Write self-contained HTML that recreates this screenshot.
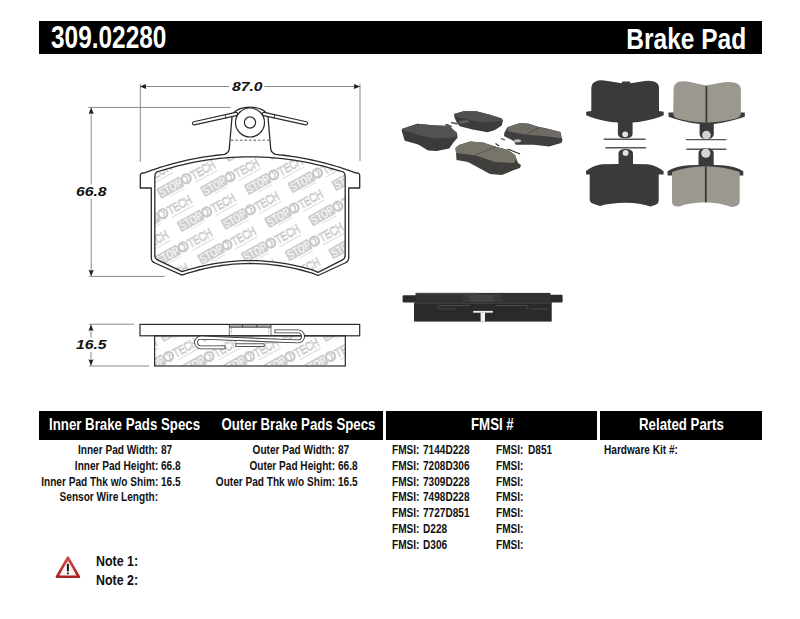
<!DOCTYPE html>
<html><head><meta charset="utf-8"><style>
*{margin:0;padding:0;box-sizing:border-box}
html,body{width:800px;height:619px;background:#fff;overflow:hidden}
body{position:relative;font-family:"Liberation Sans",sans-serif;color:#111}
.a{position:absolute;white-space:nowrap;line-height:normal}
.bar{position:absolute;background:#000}
.c{display:inline-block;transform-origin:0 0;font-weight:bold}
.cr{transform-origin:100% 0}
.r{position:absolute;white-space:nowrap;text-align:right}
.cr{display:inline-block;transform-origin:100% 0}
svg{position:absolute;left:0;top:0}
.hd{color:#fff;font-weight:bold}
.t{font-weight:bold;font-size:11.5px;line-height:14px}
.dim{font-weight:bold;font-style:italic;font-size:13px}
</style></head>
<body>
<svg width="800" height="619" viewBox="0 0 800 619" font-family="Liberation Sans, sans-serif">

<defs><clipPath id="cpi"><path d="M154.8,255 L154.8,177 Q154.8,171.13 159.5,171.13 L165.53,169.29 L171.57,167.57 L177.6,165.97 L183.63,164.51 L189.67,163.17 L195.7,161.96 L201.73,160.88 L207.77,159.92 L213.8,159.09 L219.83,158.39 L225.87,157.82 L231.9,157.37 L237.93,157.05 L243.97,156.86 L250,156.8 L256.03,156.86 L262.07,157.05 L268.1,157.37 L274.13,157.82 L280.17,158.39 L286.2,159.09 L292.23,159.92 L298.27,160.88 L304.3,161.96 L310.33,163.17 L316.37,164.51 L322.4,165.97 L328.43,167.57 L334.47,169.29 L340.5,171.13 Q345.2,171.13 345.2,177 L345.2,255 Q345.2,258.5 342.5,259.8 L318,272.3 L312.33,269.93 L306.67,268.31 L301,266.84 L295.33,265.53 L289.67,264.38 L284,263.37 L278.33,262.53 L272.67,261.83 L267,261.29 L261.33,260.91 L255.67,260.68 L250,260.6 L244.33,260.68 L238.67,260.91 L233,261.29 L227.33,261.83 L221.67,262.53 L216,263.37 L210.33,264.38 L204.67,265.53 L199,266.84 L193.33,268.31 L187.67,269.93 L182,271.7 L157.5,259.8 Q154.8,258.5 154.8,255 Z"/></clipPath>
<clipPath id="cps"><rect x="155" y="336.5" width="190" height="29"/></clipPath>
<marker id="ar" viewBox="0 0 10 8" refX="10" refY="4" markerWidth="6.4" markerHeight="5.4" orient="auto-start-reverse" markerUnits="userSpaceOnUse"><path d="M0,0 L10,4 L0,8 L1.3,4 Z" fill="#1e1e1e"/></marker>
</defs>
<g clip-path="url(#cpi)"><g transform="translate(122.15,147.55) rotate(-29)"><rect x="-31.5" y="-5.6" width="26.5" height="11.2" rx="1.2" fill="#cecece"/><text x="-30.3" y="4.2" font-size="12" font-weight="bold" fill="#fff" stroke="#c4c4c4" stroke-width="0.3" textLength="24.5" lengthAdjust="spacingAndGlyphs">STOP</text><circle cx="0" cy="0" r="4.5" fill="#fff" stroke="#c8c8c8" stroke-width="2.2"/><path d="M-0.6,-3.4 L1.6,-0.6 L-0.4,3.4" stroke="#cacaca" stroke-width="1.5" fill="none"/><text x="5.8" y="4.6" font-size="12.5" fill="#fff" stroke="#c6c6c6" stroke-width="0.75" textLength="26" lengthAdjust="spacingAndGlyphs">TECH</text><rect x="6" y="7" width="25" height="1.2" fill="#e0e0e0"/><rect x="-22" y="7" width="16" height="1.1" fill="#e4e4e4"/></g><g transform="translate(165.9,145.65) rotate(-29)"><rect x="-31.5" y="-5.6" width="26.5" height="11.2" rx="1.2" fill="#cecece"/><text x="-30.3" y="4.2" font-size="12" font-weight="bold" fill="#fff" stroke="#c4c4c4" stroke-width="0.3" textLength="24.5" lengthAdjust="spacingAndGlyphs">STOP</text><circle cx="0" cy="0" r="4.5" fill="#fff" stroke="#c8c8c8" stroke-width="2.2"/><path d="M-0.6,-3.4 L1.6,-0.6 L-0.4,3.4" stroke="#cacaca" stroke-width="1.5" fill="none"/><text x="5.8" y="4.6" font-size="12.5" fill="#fff" stroke="#c6c6c6" stroke-width="0.75" textLength="26" lengthAdjust="spacingAndGlyphs">TECH</text><rect x="6" y="7" width="25" height="1.2" fill="#e0e0e0"/><rect x="-22" y="7" width="16" height="1.1" fill="#e4e4e4"/></g><g transform="translate(209.65,143.75) rotate(-29)"><rect x="-31.5" y="-5.6" width="26.5" height="11.2" rx="1.2" fill="#cecece"/><text x="-30.3" y="4.2" font-size="12" font-weight="bold" fill="#fff" stroke="#c4c4c4" stroke-width="0.3" textLength="24.5" lengthAdjust="spacingAndGlyphs">STOP</text><circle cx="0" cy="0" r="4.5" fill="#fff" stroke="#c8c8c8" stroke-width="2.2"/><path d="M-0.6,-3.4 L1.6,-0.6 L-0.4,3.4" stroke="#cacaca" stroke-width="1.5" fill="none"/><text x="5.8" y="4.6" font-size="12.5" fill="#fff" stroke="#c6c6c6" stroke-width="0.75" textLength="26" lengthAdjust="spacingAndGlyphs">TECH</text><rect x="6" y="7" width="25" height="1.2" fill="#e0e0e0"/><rect x="-22" y="7" width="16" height="1.1" fill="#e4e4e4"/></g><g transform="translate(253.4,141.85) rotate(-29)"><rect x="-31.5" y="-5.6" width="26.5" height="11.2" rx="1.2" fill="#cecece"/><text x="-30.3" y="4.2" font-size="12" font-weight="bold" fill="#fff" stroke="#c4c4c4" stroke-width="0.3" textLength="24.5" lengthAdjust="spacingAndGlyphs">STOP</text><circle cx="0" cy="0" r="4.5" fill="#fff" stroke="#c8c8c8" stroke-width="2.2"/><path d="M-0.6,-3.4 L1.6,-0.6 L-0.4,3.4" stroke="#cacaca" stroke-width="1.5" fill="none"/><text x="5.8" y="4.6" font-size="12.5" fill="#fff" stroke="#c6c6c6" stroke-width="0.75" textLength="26" lengthAdjust="spacingAndGlyphs">TECH</text><rect x="6" y="7" width="25" height="1.2" fill="#e0e0e0"/><rect x="-22" y="7" width="16" height="1.1" fill="#e4e4e4"/></g><g transform="translate(297.15,139.95) rotate(-29)"><rect x="-31.5" y="-5.6" width="26.5" height="11.2" rx="1.2" fill="#cecece"/><text x="-30.3" y="4.2" font-size="12" font-weight="bold" fill="#fff" stroke="#c4c4c4" stroke-width="0.3" textLength="24.5" lengthAdjust="spacingAndGlyphs">STOP</text><circle cx="0" cy="0" r="4.5" fill="#fff" stroke="#c8c8c8" stroke-width="2.2"/><path d="M-0.6,-3.4 L1.6,-0.6 L-0.4,3.4" stroke="#cacaca" stroke-width="1.5" fill="none"/><text x="5.8" y="4.6" font-size="12.5" fill="#fff" stroke="#c6c6c6" stroke-width="0.75" textLength="26" lengthAdjust="spacingAndGlyphs">TECH</text><rect x="6" y="7" width="25" height="1.2" fill="#e0e0e0"/><rect x="-22" y="7" width="16" height="1.1" fill="#e4e4e4"/></g><g transform="translate(340.9,138.05) rotate(-29)"><rect x="-31.5" y="-5.6" width="26.5" height="11.2" rx="1.2" fill="#cecece"/><text x="-30.3" y="4.2" font-size="12" font-weight="bold" fill="#fff" stroke="#c4c4c4" stroke-width="0.3" textLength="24.5" lengthAdjust="spacingAndGlyphs">STOP</text><circle cx="0" cy="0" r="4.5" fill="#fff" stroke="#c8c8c8" stroke-width="2.2"/><path d="M-0.6,-3.4 L1.6,-0.6 L-0.4,3.4" stroke="#cacaca" stroke-width="1.5" fill="none"/><text x="5.8" y="4.6" font-size="12.5" fill="#fff" stroke="#c6c6c6" stroke-width="0.75" textLength="26" lengthAdjust="spacingAndGlyphs">TECH</text><rect x="6" y="7" width="25" height="1.2" fill="#e0e0e0"/><rect x="-22" y="7" width="16" height="1.1" fill="#e4e4e4"/></g><g transform="translate(384.65,136.15) rotate(-29)"><rect x="-31.5" y="-5.6" width="26.5" height="11.2" rx="1.2" fill="#cecece"/><text x="-30.3" y="4.2" font-size="12" font-weight="bold" fill="#fff" stroke="#c4c4c4" stroke-width="0.3" textLength="24.5" lengthAdjust="spacingAndGlyphs">STOP</text><circle cx="0" cy="0" r="4.5" fill="#fff" stroke="#c8c8c8" stroke-width="2.2"/><path d="M-0.6,-3.4 L1.6,-0.6 L-0.4,3.4" stroke="#cacaca" stroke-width="1.5" fill="none"/><text x="5.8" y="4.6" font-size="12.5" fill="#fff" stroke="#c6c6c6" stroke-width="0.75" textLength="26" lengthAdjust="spacingAndGlyphs">TECH</text><rect x="6" y="7" width="25" height="1.2" fill="#e0e0e0"/><rect x="-22" y="7" width="16" height="1.1" fill="#e4e4e4"/></g><g transform="translate(142.5,180.65) rotate(-29)"><rect x="-31.5" y="-5.6" width="26.5" height="11.2" rx="1.2" fill="#cecece"/><text x="-30.3" y="4.2" font-size="12" font-weight="bold" fill="#fff" stroke="#c4c4c4" stroke-width="0.3" textLength="24.5" lengthAdjust="spacingAndGlyphs">STOP</text><circle cx="0" cy="0" r="4.5" fill="#fff" stroke="#c8c8c8" stroke-width="2.2"/><path d="M-0.6,-3.4 L1.6,-0.6 L-0.4,3.4" stroke="#cacaca" stroke-width="1.5" fill="none"/><text x="5.8" y="4.6" font-size="12.5" fill="#fff" stroke="#c6c6c6" stroke-width="0.75" textLength="26" lengthAdjust="spacingAndGlyphs">TECH</text><rect x="6" y="7" width="25" height="1.2" fill="#e0e0e0"/><rect x="-22" y="7" width="16" height="1.1" fill="#e4e4e4"/></g><g transform="translate(186.25,178.75) rotate(-29)"><rect x="-31.5" y="-5.6" width="26.5" height="11.2" rx="1.2" fill="#cecece"/><text x="-30.3" y="4.2" font-size="12" font-weight="bold" fill="#fff" stroke="#c4c4c4" stroke-width="0.3" textLength="24.5" lengthAdjust="spacingAndGlyphs">STOP</text><circle cx="0" cy="0" r="4.5" fill="#fff" stroke="#c8c8c8" stroke-width="2.2"/><path d="M-0.6,-3.4 L1.6,-0.6 L-0.4,3.4" stroke="#cacaca" stroke-width="1.5" fill="none"/><text x="5.8" y="4.6" font-size="12.5" fill="#fff" stroke="#c6c6c6" stroke-width="0.75" textLength="26" lengthAdjust="spacingAndGlyphs">TECH</text><rect x="6" y="7" width="25" height="1.2" fill="#e0e0e0"/><rect x="-22" y="7" width="16" height="1.1" fill="#e4e4e4"/></g><g transform="translate(230,176.85) rotate(-29)"><rect x="-31.5" y="-5.6" width="26.5" height="11.2" rx="1.2" fill="#cecece"/><text x="-30.3" y="4.2" font-size="12" font-weight="bold" fill="#fff" stroke="#c4c4c4" stroke-width="0.3" textLength="24.5" lengthAdjust="spacingAndGlyphs">STOP</text><circle cx="0" cy="0" r="4.5" fill="#fff" stroke="#c8c8c8" stroke-width="2.2"/><path d="M-0.6,-3.4 L1.6,-0.6 L-0.4,3.4" stroke="#cacaca" stroke-width="1.5" fill="none"/><text x="5.8" y="4.6" font-size="12.5" fill="#fff" stroke="#c6c6c6" stroke-width="0.75" textLength="26" lengthAdjust="spacingAndGlyphs">TECH</text><rect x="6" y="7" width="25" height="1.2" fill="#e0e0e0"/><rect x="-22" y="7" width="16" height="1.1" fill="#e4e4e4"/></g><g transform="translate(273.75,174.95) rotate(-29)"><rect x="-31.5" y="-5.6" width="26.5" height="11.2" rx="1.2" fill="#cecece"/><text x="-30.3" y="4.2" font-size="12" font-weight="bold" fill="#fff" stroke="#c4c4c4" stroke-width="0.3" textLength="24.5" lengthAdjust="spacingAndGlyphs">STOP</text><circle cx="0" cy="0" r="4.5" fill="#fff" stroke="#c8c8c8" stroke-width="2.2"/><path d="M-0.6,-3.4 L1.6,-0.6 L-0.4,3.4" stroke="#cacaca" stroke-width="1.5" fill="none"/><text x="5.8" y="4.6" font-size="12.5" fill="#fff" stroke="#c6c6c6" stroke-width="0.75" textLength="26" lengthAdjust="spacingAndGlyphs">TECH</text><rect x="6" y="7" width="25" height="1.2" fill="#e0e0e0"/><rect x="-22" y="7" width="16" height="1.1" fill="#e4e4e4"/></g><g transform="translate(317.5,173.05) rotate(-29)"><rect x="-31.5" y="-5.6" width="26.5" height="11.2" rx="1.2" fill="#cecece"/><text x="-30.3" y="4.2" font-size="12" font-weight="bold" fill="#fff" stroke="#c4c4c4" stroke-width="0.3" textLength="24.5" lengthAdjust="spacingAndGlyphs">STOP</text><circle cx="0" cy="0" r="4.5" fill="#fff" stroke="#c8c8c8" stroke-width="2.2"/><path d="M-0.6,-3.4 L1.6,-0.6 L-0.4,3.4" stroke="#cacaca" stroke-width="1.5" fill="none"/><text x="5.8" y="4.6" font-size="12.5" fill="#fff" stroke="#c6c6c6" stroke-width="0.75" textLength="26" lengthAdjust="spacingAndGlyphs">TECH</text><rect x="6" y="7" width="25" height="1.2" fill="#e0e0e0"/><rect x="-22" y="7" width="16" height="1.1" fill="#e4e4e4"/></g><g transform="translate(361.25,171.15) rotate(-29)"><rect x="-31.5" y="-5.6" width="26.5" height="11.2" rx="1.2" fill="#cecece"/><text x="-30.3" y="4.2" font-size="12" font-weight="bold" fill="#fff" stroke="#c4c4c4" stroke-width="0.3" textLength="24.5" lengthAdjust="spacingAndGlyphs">STOP</text><circle cx="0" cy="0" r="4.5" fill="#fff" stroke="#c8c8c8" stroke-width="2.2"/><path d="M-0.6,-3.4 L1.6,-0.6 L-0.4,3.4" stroke="#cacaca" stroke-width="1.5" fill="none"/><text x="5.8" y="4.6" font-size="12.5" fill="#fff" stroke="#c6c6c6" stroke-width="0.75" textLength="26" lengthAdjust="spacingAndGlyphs">TECH</text><rect x="6" y="7" width="25" height="1.2" fill="#e0e0e0"/><rect x="-22" y="7" width="16" height="1.1" fill="#e4e4e4"/></g><g transform="translate(119.1,215.65) rotate(-29)"><rect x="-31.5" y="-5.6" width="26.5" height="11.2" rx="1.2" fill="#cecece"/><text x="-30.3" y="4.2" font-size="12" font-weight="bold" fill="#fff" stroke="#c4c4c4" stroke-width="0.3" textLength="24.5" lengthAdjust="spacingAndGlyphs">STOP</text><circle cx="0" cy="0" r="4.5" fill="#fff" stroke="#c8c8c8" stroke-width="2.2"/><path d="M-0.6,-3.4 L1.6,-0.6 L-0.4,3.4" stroke="#cacaca" stroke-width="1.5" fill="none"/><text x="5.8" y="4.6" font-size="12.5" fill="#fff" stroke="#c6c6c6" stroke-width="0.75" textLength="26" lengthAdjust="spacingAndGlyphs">TECH</text><rect x="6" y="7" width="25" height="1.2" fill="#e0e0e0"/><rect x="-22" y="7" width="16" height="1.1" fill="#e4e4e4"/></g><g transform="translate(162.85,213.75) rotate(-29)"><rect x="-31.5" y="-5.6" width="26.5" height="11.2" rx="1.2" fill="#cecece"/><text x="-30.3" y="4.2" font-size="12" font-weight="bold" fill="#fff" stroke="#c4c4c4" stroke-width="0.3" textLength="24.5" lengthAdjust="spacingAndGlyphs">STOP</text><circle cx="0" cy="0" r="4.5" fill="#fff" stroke="#c8c8c8" stroke-width="2.2"/><path d="M-0.6,-3.4 L1.6,-0.6 L-0.4,3.4" stroke="#cacaca" stroke-width="1.5" fill="none"/><text x="5.8" y="4.6" font-size="12.5" fill="#fff" stroke="#c6c6c6" stroke-width="0.75" textLength="26" lengthAdjust="spacingAndGlyphs">TECH</text><rect x="6" y="7" width="25" height="1.2" fill="#e0e0e0"/><rect x="-22" y="7" width="16" height="1.1" fill="#e4e4e4"/></g><g transform="translate(206.6,211.85) rotate(-29)"><rect x="-31.5" y="-5.6" width="26.5" height="11.2" rx="1.2" fill="#cecece"/><text x="-30.3" y="4.2" font-size="12" font-weight="bold" fill="#fff" stroke="#c4c4c4" stroke-width="0.3" textLength="24.5" lengthAdjust="spacingAndGlyphs">STOP</text><circle cx="0" cy="0" r="4.5" fill="#fff" stroke="#c8c8c8" stroke-width="2.2"/><path d="M-0.6,-3.4 L1.6,-0.6 L-0.4,3.4" stroke="#cacaca" stroke-width="1.5" fill="none"/><text x="5.8" y="4.6" font-size="12.5" fill="#fff" stroke="#c6c6c6" stroke-width="0.75" textLength="26" lengthAdjust="spacingAndGlyphs">TECH</text><rect x="6" y="7" width="25" height="1.2" fill="#e0e0e0"/><rect x="-22" y="7" width="16" height="1.1" fill="#e4e4e4"/></g><g transform="translate(250.35,209.95) rotate(-29)"><rect x="-31.5" y="-5.6" width="26.5" height="11.2" rx="1.2" fill="#cecece"/><text x="-30.3" y="4.2" font-size="12" font-weight="bold" fill="#fff" stroke="#c4c4c4" stroke-width="0.3" textLength="24.5" lengthAdjust="spacingAndGlyphs">STOP</text><circle cx="0" cy="0" r="4.5" fill="#fff" stroke="#c8c8c8" stroke-width="2.2"/><path d="M-0.6,-3.4 L1.6,-0.6 L-0.4,3.4" stroke="#cacaca" stroke-width="1.5" fill="none"/><text x="5.8" y="4.6" font-size="12.5" fill="#fff" stroke="#c6c6c6" stroke-width="0.75" textLength="26" lengthAdjust="spacingAndGlyphs">TECH</text><rect x="6" y="7" width="25" height="1.2" fill="#e0e0e0"/><rect x="-22" y="7" width="16" height="1.1" fill="#e4e4e4"/></g><g transform="translate(294.1,208.05) rotate(-29)"><rect x="-31.5" y="-5.6" width="26.5" height="11.2" rx="1.2" fill="#cecece"/><text x="-30.3" y="4.2" font-size="12" font-weight="bold" fill="#fff" stroke="#c4c4c4" stroke-width="0.3" textLength="24.5" lengthAdjust="spacingAndGlyphs">STOP</text><circle cx="0" cy="0" r="4.5" fill="#fff" stroke="#c8c8c8" stroke-width="2.2"/><path d="M-0.6,-3.4 L1.6,-0.6 L-0.4,3.4" stroke="#cacaca" stroke-width="1.5" fill="none"/><text x="5.8" y="4.6" font-size="12.5" fill="#fff" stroke="#c6c6c6" stroke-width="0.75" textLength="26" lengthAdjust="spacingAndGlyphs">TECH</text><rect x="6" y="7" width="25" height="1.2" fill="#e0e0e0"/><rect x="-22" y="7" width="16" height="1.1" fill="#e4e4e4"/></g><g transform="translate(337.85,206.15) rotate(-29)"><rect x="-31.5" y="-5.6" width="26.5" height="11.2" rx="1.2" fill="#cecece"/><text x="-30.3" y="4.2" font-size="12" font-weight="bold" fill="#fff" stroke="#c4c4c4" stroke-width="0.3" textLength="24.5" lengthAdjust="spacingAndGlyphs">STOP</text><circle cx="0" cy="0" r="4.5" fill="#fff" stroke="#c8c8c8" stroke-width="2.2"/><path d="M-0.6,-3.4 L1.6,-0.6 L-0.4,3.4" stroke="#cacaca" stroke-width="1.5" fill="none"/><text x="5.8" y="4.6" font-size="12.5" fill="#fff" stroke="#c6c6c6" stroke-width="0.75" textLength="26" lengthAdjust="spacingAndGlyphs">TECH</text><rect x="6" y="7" width="25" height="1.2" fill="#e0e0e0"/><rect x="-22" y="7" width="16" height="1.1" fill="#e4e4e4"/></g><g transform="translate(381.6,204.25) rotate(-29)"><rect x="-31.5" y="-5.6" width="26.5" height="11.2" rx="1.2" fill="#cecece"/><text x="-30.3" y="4.2" font-size="12" font-weight="bold" fill="#fff" stroke="#c4c4c4" stroke-width="0.3" textLength="24.5" lengthAdjust="spacingAndGlyphs">STOP</text><circle cx="0" cy="0" r="4.5" fill="#fff" stroke="#c8c8c8" stroke-width="2.2"/><path d="M-0.6,-3.4 L1.6,-0.6 L-0.4,3.4" stroke="#cacaca" stroke-width="1.5" fill="none"/><text x="5.8" y="4.6" font-size="12.5" fill="#fff" stroke="#c6c6c6" stroke-width="0.75" textLength="26" lengthAdjust="spacingAndGlyphs">TECH</text><rect x="6" y="7" width="25" height="1.2" fill="#e0e0e0"/><rect x="-22" y="7" width="16" height="1.1" fill="#e4e4e4"/></g><g transform="translate(139.45,248.75) rotate(-29)"><rect x="-31.5" y="-5.6" width="26.5" height="11.2" rx="1.2" fill="#cecece"/><text x="-30.3" y="4.2" font-size="12" font-weight="bold" fill="#fff" stroke="#c4c4c4" stroke-width="0.3" textLength="24.5" lengthAdjust="spacingAndGlyphs">STOP</text><circle cx="0" cy="0" r="4.5" fill="#fff" stroke="#c8c8c8" stroke-width="2.2"/><path d="M-0.6,-3.4 L1.6,-0.6 L-0.4,3.4" stroke="#cacaca" stroke-width="1.5" fill="none"/><text x="5.8" y="4.6" font-size="12.5" fill="#fff" stroke="#c6c6c6" stroke-width="0.75" textLength="26" lengthAdjust="spacingAndGlyphs">TECH</text><rect x="6" y="7" width="25" height="1.2" fill="#e0e0e0"/><rect x="-22" y="7" width="16" height="1.1" fill="#e4e4e4"/></g><g transform="translate(183.2,246.85) rotate(-29)"><rect x="-31.5" y="-5.6" width="26.5" height="11.2" rx="1.2" fill="#cecece"/><text x="-30.3" y="4.2" font-size="12" font-weight="bold" fill="#fff" stroke="#c4c4c4" stroke-width="0.3" textLength="24.5" lengthAdjust="spacingAndGlyphs">STOP</text><circle cx="0" cy="0" r="4.5" fill="#fff" stroke="#c8c8c8" stroke-width="2.2"/><path d="M-0.6,-3.4 L1.6,-0.6 L-0.4,3.4" stroke="#cacaca" stroke-width="1.5" fill="none"/><text x="5.8" y="4.6" font-size="12.5" fill="#fff" stroke="#c6c6c6" stroke-width="0.75" textLength="26" lengthAdjust="spacingAndGlyphs">TECH</text><rect x="6" y="7" width="25" height="1.2" fill="#e0e0e0"/><rect x="-22" y="7" width="16" height="1.1" fill="#e4e4e4"/></g><g transform="translate(226.95,244.95) rotate(-29)"><rect x="-31.5" y="-5.6" width="26.5" height="11.2" rx="1.2" fill="#cecece"/><text x="-30.3" y="4.2" font-size="12" font-weight="bold" fill="#fff" stroke="#c4c4c4" stroke-width="0.3" textLength="24.5" lengthAdjust="spacingAndGlyphs">STOP</text><circle cx="0" cy="0" r="4.5" fill="#fff" stroke="#c8c8c8" stroke-width="2.2"/><path d="M-0.6,-3.4 L1.6,-0.6 L-0.4,3.4" stroke="#cacaca" stroke-width="1.5" fill="none"/><text x="5.8" y="4.6" font-size="12.5" fill="#fff" stroke="#c6c6c6" stroke-width="0.75" textLength="26" lengthAdjust="spacingAndGlyphs">TECH</text><rect x="6" y="7" width="25" height="1.2" fill="#e0e0e0"/><rect x="-22" y="7" width="16" height="1.1" fill="#e4e4e4"/></g><g transform="translate(270.7,243.05) rotate(-29)"><rect x="-31.5" y="-5.6" width="26.5" height="11.2" rx="1.2" fill="#cecece"/><text x="-30.3" y="4.2" font-size="12" font-weight="bold" fill="#fff" stroke="#c4c4c4" stroke-width="0.3" textLength="24.5" lengthAdjust="spacingAndGlyphs">STOP</text><circle cx="0" cy="0" r="4.5" fill="#fff" stroke="#c8c8c8" stroke-width="2.2"/><path d="M-0.6,-3.4 L1.6,-0.6 L-0.4,3.4" stroke="#cacaca" stroke-width="1.5" fill="none"/><text x="5.8" y="4.6" font-size="12.5" fill="#fff" stroke="#c6c6c6" stroke-width="0.75" textLength="26" lengthAdjust="spacingAndGlyphs">TECH</text><rect x="6" y="7" width="25" height="1.2" fill="#e0e0e0"/><rect x="-22" y="7" width="16" height="1.1" fill="#e4e4e4"/></g><g transform="translate(314.45,241.15) rotate(-29)"><rect x="-31.5" y="-5.6" width="26.5" height="11.2" rx="1.2" fill="#cecece"/><text x="-30.3" y="4.2" font-size="12" font-weight="bold" fill="#fff" stroke="#c4c4c4" stroke-width="0.3" textLength="24.5" lengthAdjust="spacingAndGlyphs">STOP</text><circle cx="0" cy="0" r="4.5" fill="#fff" stroke="#c8c8c8" stroke-width="2.2"/><path d="M-0.6,-3.4 L1.6,-0.6 L-0.4,3.4" stroke="#cacaca" stroke-width="1.5" fill="none"/><text x="5.8" y="4.6" font-size="12.5" fill="#fff" stroke="#c6c6c6" stroke-width="0.75" textLength="26" lengthAdjust="spacingAndGlyphs">TECH</text><rect x="6" y="7" width="25" height="1.2" fill="#e0e0e0"/><rect x="-22" y="7" width="16" height="1.1" fill="#e4e4e4"/></g><g transform="translate(358.2,239.25) rotate(-29)"><rect x="-31.5" y="-5.6" width="26.5" height="11.2" rx="1.2" fill="#cecece"/><text x="-30.3" y="4.2" font-size="12" font-weight="bold" fill="#fff" stroke="#c4c4c4" stroke-width="0.3" textLength="24.5" lengthAdjust="spacingAndGlyphs">STOP</text><circle cx="0" cy="0" r="4.5" fill="#fff" stroke="#c8c8c8" stroke-width="2.2"/><path d="M-0.6,-3.4 L1.6,-0.6 L-0.4,3.4" stroke="#cacaca" stroke-width="1.5" fill="none"/><text x="5.8" y="4.6" font-size="12.5" fill="#fff" stroke="#c6c6c6" stroke-width="0.75" textLength="26" lengthAdjust="spacingAndGlyphs">TECH</text><rect x="6" y="7" width="25" height="1.2" fill="#e0e0e0"/><rect x="-22" y="7" width="16" height="1.1" fill="#e4e4e4"/></g><g transform="translate(116.05,283.75) rotate(-29)"><rect x="-31.5" y="-5.6" width="26.5" height="11.2" rx="1.2" fill="#cecece"/><text x="-30.3" y="4.2" font-size="12" font-weight="bold" fill="#fff" stroke="#c4c4c4" stroke-width="0.3" textLength="24.5" lengthAdjust="spacingAndGlyphs">STOP</text><circle cx="0" cy="0" r="4.5" fill="#fff" stroke="#c8c8c8" stroke-width="2.2"/><path d="M-0.6,-3.4 L1.6,-0.6 L-0.4,3.4" stroke="#cacaca" stroke-width="1.5" fill="none"/><text x="5.8" y="4.6" font-size="12.5" fill="#fff" stroke="#c6c6c6" stroke-width="0.75" textLength="26" lengthAdjust="spacingAndGlyphs">TECH</text><rect x="6" y="7" width="25" height="1.2" fill="#e0e0e0"/><rect x="-22" y="7" width="16" height="1.1" fill="#e4e4e4"/></g><g transform="translate(159.8,281.85) rotate(-29)"><rect x="-31.5" y="-5.6" width="26.5" height="11.2" rx="1.2" fill="#cecece"/><text x="-30.3" y="4.2" font-size="12" font-weight="bold" fill="#fff" stroke="#c4c4c4" stroke-width="0.3" textLength="24.5" lengthAdjust="spacingAndGlyphs">STOP</text><circle cx="0" cy="0" r="4.5" fill="#fff" stroke="#c8c8c8" stroke-width="2.2"/><path d="M-0.6,-3.4 L1.6,-0.6 L-0.4,3.4" stroke="#cacaca" stroke-width="1.5" fill="none"/><text x="5.8" y="4.6" font-size="12.5" fill="#fff" stroke="#c6c6c6" stroke-width="0.75" textLength="26" lengthAdjust="spacingAndGlyphs">TECH</text><rect x="6" y="7" width="25" height="1.2" fill="#e0e0e0"/><rect x="-22" y="7" width="16" height="1.1" fill="#e4e4e4"/></g><g transform="translate(203.55,279.95) rotate(-29)"><rect x="-31.5" y="-5.6" width="26.5" height="11.2" rx="1.2" fill="#cecece"/><text x="-30.3" y="4.2" font-size="12" font-weight="bold" fill="#fff" stroke="#c4c4c4" stroke-width="0.3" textLength="24.5" lengthAdjust="spacingAndGlyphs">STOP</text><circle cx="0" cy="0" r="4.5" fill="#fff" stroke="#c8c8c8" stroke-width="2.2"/><path d="M-0.6,-3.4 L1.6,-0.6 L-0.4,3.4" stroke="#cacaca" stroke-width="1.5" fill="none"/><text x="5.8" y="4.6" font-size="12.5" fill="#fff" stroke="#c6c6c6" stroke-width="0.75" textLength="26" lengthAdjust="spacingAndGlyphs">TECH</text><rect x="6" y="7" width="25" height="1.2" fill="#e0e0e0"/><rect x="-22" y="7" width="16" height="1.1" fill="#e4e4e4"/></g><g transform="translate(247.3,278.05) rotate(-29)"><rect x="-31.5" y="-5.6" width="26.5" height="11.2" rx="1.2" fill="#cecece"/><text x="-30.3" y="4.2" font-size="12" font-weight="bold" fill="#fff" stroke="#c4c4c4" stroke-width="0.3" textLength="24.5" lengthAdjust="spacingAndGlyphs">STOP</text><circle cx="0" cy="0" r="4.5" fill="#fff" stroke="#c8c8c8" stroke-width="2.2"/><path d="M-0.6,-3.4 L1.6,-0.6 L-0.4,3.4" stroke="#cacaca" stroke-width="1.5" fill="none"/><text x="5.8" y="4.6" font-size="12.5" fill="#fff" stroke="#c6c6c6" stroke-width="0.75" textLength="26" lengthAdjust="spacingAndGlyphs">TECH</text><rect x="6" y="7" width="25" height="1.2" fill="#e0e0e0"/><rect x="-22" y="7" width="16" height="1.1" fill="#e4e4e4"/></g><g transform="translate(291.05,276.15) rotate(-29)"><rect x="-31.5" y="-5.6" width="26.5" height="11.2" rx="1.2" fill="#cecece"/><text x="-30.3" y="4.2" font-size="12" font-weight="bold" fill="#fff" stroke="#c4c4c4" stroke-width="0.3" textLength="24.5" lengthAdjust="spacingAndGlyphs">STOP</text><circle cx="0" cy="0" r="4.5" fill="#fff" stroke="#c8c8c8" stroke-width="2.2"/><path d="M-0.6,-3.4 L1.6,-0.6 L-0.4,3.4" stroke="#cacaca" stroke-width="1.5" fill="none"/><text x="5.8" y="4.6" font-size="12.5" fill="#fff" stroke="#c6c6c6" stroke-width="0.75" textLength="26" lengthAdjust="spacingAndGlyphs">TECH</text><rect x="6" y="7" width="25" height="1.2" fill="#e0e0e0"/><rect x="-22" y="7" width="16" height="1.1" fill="#e4e4e4"/></g><g transform="translate(334.8,274.25) rotate(-29)"><rect x="-31.5" y="-5.6" width="26.5" height="11.2" rx="1.2" fill="#cecece"/><text x="-30.3" y="4.2" font-size="12" font-weight="bold" fill="#fff" stroke="#c4c4c4" stroke-width="0.3" textLength="24.5" lengthAdjust="spacingAndGlyphs">STOP</text><circle cx="0" cy="0" r="4.5" fill="#fff" stroke="#c8c8c8" stroke-width="2.2"/><path d="M-0.6,-3.4 L1.6,-0.6 L-0.4,3.4" stroke="#cacaca" stroke-width="1.5" fill="none"/><text x="5.8" y="4.6" font-size="12.5" fill="#fff" stroke="#c6c6c6" stroke-width="0.75" textLength="26" lengthAdjust="spacingAndGlyphs">TECH</text><rect x="6" y="7" width="25" height="1.2" fill="#e0e0e0"/><rect x="-22" y="7" width="16" height="1.1" fill="#e4e4e4"/></g><g transform="translate(378.55,272.35) rotate(-29)"><rect x="-31.5" y="-5.6" width="26.5" height="11.2" rx="1.2" fill="#cecece"/><text x="-30.3" y="4.2" font-size="12" font-weight="bold" fill="#fff" stroke="#c4c4c4" stroke-width="0.3" textLength="24.5" lengthAdjust="spacingAndGlyphs">STOP</text><circle cx="0" cy="0" r="4.5" fill="#fff" stroke="#c8c8c8" stroke-width="2.2"/><path d="M-0.6,-3.4 L1.6,-0.6 L-0.4,3.4" stroke="#cacaca" stroke-width="1.5" fill="none"/><text x="5.8" y="4.6" font-size="12.5" fill="#fff" stroke="#c6c6c6" stroke-width="0.75" textLength="26" lengthAdjust="spacingAndGlyphs">TECH</text><rect x="6" y="7" width="25" height="1.2" fill="#e0e0e0"/><rect x="-22" y="7" width="16" height="1.1" fill="#e4e4e4"/></g></g>
<path d="M140.3,188 L140.3,175.5 Q140.3,172.6 143.8,173.04 L147.84,171.57 L151.87,170.15 L155.91,168.79 L159.94,167.49 L163.98,166.25 L168.01,165.06 L172.05,163.93 L176.08,162.86 L180.12,161.85 L184.15,160.89 L188.19,159.99 L192.22,159.14 L196.25,158.35 L200.29,157.62 L204.32,156.95 L208.36,156.33 L212.4,155.77 L216.43,155.27 L220.47,154.83 L224.5,154.44 C227.5,153 229.3,151.5 229.3,148.5 L232,117 C233,111 240,107.2 250,107.2 C260,107.2 267,111 268,117 L270.7,148.5 C270.7,151.5 272.5,153 275.5,154.44 L279.54,154.83 L283.57,155.27 L287.61,155.77 L291.64,156.33 L295.68,156.95 L299.71,157.62 L303.75,158.35 L307.78,159.14 L311.81,159.99 L315.85,160.89 L319.88,161.85 L323.92,162.86 L327.95,163.93 L331.99,165.06 L336.02,166.25 L340.06,167.49 L344.1,168.79 L348.13,170.15 L352.16,171.57 L356.2,173.04 Q359.7,172.6 359.7,175.5 L359.7,188 L348.7,188 L348.7,258 Q348.7,261.5 345,263 L318,275.5 L312.33,273.21 L306.67,271.53 L301,270 L295.33,268.64 L289.67,267.43 L284,266.39 L278.33,265.51 L272.67,264.78 L267,264.22 L261.33,263.82 L255.67,263.58 L250,263.5 L244.33,263.58 L238.67,263.82 L233,264.22 L227.33,264.78 L221.67,265.51 L216,266.39 L210.33,267.43 L204.67,268.64 L199,270 L193.33,271.53 L187.67,273.21 L182,275.06 L155,263 Q151.3,261.5 151.3,258 L151.3,188 Z" fill="none" stroke="#2a2a2a" stroke-width="1.3" stroke-linejoin="round"/>
<path d="M154.8,255 L154.8,177 Q154.8,171.13 159.5,171.13 L165.53,169.29 L171.57,167.57 L177.6,165.97 L183.63,164.51 L189.67,163.17 L195.7,161.96 L201.73,160.88 L207.77,159.92 L213.8,159.09 L219.83,158.39 L225.87,157.82 L231.9,157.37 L237.93,157.05 L243.97,156.86 L250,156.8 L256.03,156.86 L262.07,157.05 L268.1,157.37 L274.13,157.82 L280.17,158.39 L286.2,159.09 L292.23,159.92 L298.27,160.88 L304.3,161.96 L310.33,163.17 L316.37,164.51 L322.4,165.97 L328.43,167.57 L334.47,169.29 L340.5,171.13 Q345.2,171.13 345.2,177 L345.2,255 Q345.2,258.5 342.5,259.8 L318,272.3 L312.33,269.93 L306.67,268.31 L301,266.84 L295.33,265.53 L289.67,264.38 L284,263.37 L278.33,262.53 L272.67,261.83 L267,261.29 L261.33,260.91 L255.67,260.68 L250,260.6 L244.33,260.68 L238.67,260.91 L233,261.29 L227.33,261.83 L221.67,262.53 L216,263.37 L210.33,264.38 L204.67,265.53 L199,266.84 L193.33,268.31 L187.67,269.93 L182,271.7 L157.5,259.8 Q154.8,258.5 154.8,255 Z" fill="none" stroke="#2a2a2a" stroke-width="1.3" stroke-linejoin="round"/>

<circle cx="250" cy="122.5" r="14.5" fill="#fff" stroke="#2a2a2a" stroke-width="1.2"/>
<circle cx="250" cy="122.5" r="5.6" fill="#fff" stroke="#2a2a2a" stroke-width="1.2"/>
<line x1="231" y1="140.2" x2="270" y2="140.2" stroke="#444" stroke-width="0.9" stroke-dasharray="2.5,2"/>
<path d="M194,123.3 L236,114" stroke="#2a2a2a" stroke-width="4.4" stroke-linecap="round"/>
<path d="M194,123.3 L236,114" stroke="#fff" stroke-width="2.2" stroke-linecap="round"/>
<path d="M306,123.3 L264,114" stroke="#2a2a2a" stroke-width="4.4" stroke-linecap="round"/>
<path d="M306,123.3 L264,114" stroke="#fff" stroke-width="2.2" stroke-linecap="round"/>
<line x1="225.2" y1="114.5" x2="226" y2="118.5" stroke="#2a2a2a" stroke-width="0.9"/>
<line x1="274.8" y1="114.5" x2="274" y2="118.5" stroke="#2a2a2a" stroke-width="0.9"/>


<g stroke="#8a8a8a" stroke-width="1" fill="none">
<line x1="140.3" y1="84" x2="140.3" y2="162"/>
<line x1="360" y1="83.5" x2="360" y2="161"/>
<line x1="140" y1="86.5" x2="229" y2="86.5" marker-start="url(#ar)"/>
<line x1="264.5" y1="86.5" x2="360" y2="86.5" marker-end="url(#ar)"/>
<line x1="88.2" y1="107.4" x2="230.5" y2="107.4"/>
<line x1="89" y1="276.4" x2="164.8" y2="276.4"/>
<line x1="91.2" y1="107.6" x2="91.2" y2="184.5" marker-start="url(#ar)"/>
<line x1="91.2" y1="199" x2="91.2" y2="276.2" marker-end="url(#ar)"/>
<line x1="89" y1="324.2" x2="134" y2="324.2"/>
<line x1="89" y1="366" x2="149" y2="366"/>
<line x1="91" y1="324.5" x2="91" y2="338" marker-start="url(#ar)"/>
<line x1="91" y1="352" x2="91" y2="365.7" marker-end="url(#ar)"/>
</g>


<g clip-path="url(#cps)"><g transform="translate(87.5,356.5) rotate(-29)"><rect x="-31.5" y="-5.6" width="26.5" height="11.2" rx="1.2" fill="#cecece"/><text x="-30.3" y="4.2" font-size="12" font-weight="bold" fill="#fff" stroke="#c4c4c4" stroke-width="0.3" textLength="24.5" lengthAdjust="spacingAndGlyphs">STOP</text><circle cx="0" cy="0" r="4.5" fill="#fff" stroke="#c8c8c8" stroke-width="2.2"/><path d="M-0.6,-3.4 L1.6,-0.6 L-0.4,3.4" stroke="#cacaca" stroke-width="1.5" fill="none"/><text x="5.8" y="4.6" font-size="12.5" fill="#fff" stroke="#c6c6c6" stroke-width="0.75" textLength="26" lengthAdjust="spacingAndGlyphs">TECH</text><rect x="6" y="7" width="25" height="1.2" fill="#e0e0e0"/><rect x="-22" y="7" width="16" height="1.1" fill="#e4e4e4"/></g><g transform="translate(107.5,322) rotate(-29)"><rect x="-31.5" y="-5.6" width="26.5" height="11.2" rx="1.2" fill="#cecece"/><text x="-30.3" y="4.2" font-size="12" font-weight="bold" fill="#fff" stroke="#c4c4c4" stroke-width="0.3" textLength="24.5" lengthAdjust="spacingAndGlyphs">STOP</text><circle cx="0" cy="0" r="4.5" fill="#fff" stroke="#c8c8c8" stroke-width="2.2"/><path d="M-0.6,-3.4 L1.6,-0.6 L-0.4,3.4" stroke="#cacaca" stroke-width="1.5" fill="none"/><text x="5.8" y="4.6" font-size="12.5" fill="#fff" stroke="#c6c6c6" stroke-width="0.75" textLength="26" lengthAdjust="spacingAndGlyphs">TECH</text><rect x="6" y="7" width="25" height="1.2" fill="#e0e0e0"/><rect x="-22" y="7" width="16" height="1.1" fill="#e4e4e4"/></g><g transform="translate(128,356.5) rotate(-29)"><rect x="-31.5" y="-5.6" width="26.5" height="11.2" rx="1.2" fill="#cecece"/><text x="-30.3" y="4.2" font-size="12" font-weight="bold" fill="#fff" stroke="#c4c4c4" stroke-width="0.3" textLength="24.5" lengthAdjust="spacingAndGlyphs">STOP</text><circle cx="0" cy="0" r="4.5" fill="#fff" stroke="#c8c8c8" stroke-width="2.2"/><path d="M-0.6,-3.4 L1.6,-0.6 L-0.4,3.4" stroke="#cacaca" stroke-width="1.5" fill="none"/><text x="5.8" y="4.6" font-size="12.5" fill="#fff" stroke="#c6c6c6" stroke-width="0.75" textLength="26" lengthAdjust="spacingAndGlyphs">TECH</text><rect x="6" y="7" width="25" height="1.2" fill="#e0e0e0"/><rect x="-22" y="7" width="16" height="1.1" fill="#e4e4e4"/></g><g transform="translate(148,322) rotate(-29)"><rect x="-31.5" y="-5.6" width="26.5" height="11.2" rx="1.2" fill="#cecece"/><text x="-30.3" y="4.2" font-size="12" font-weight="bold" fill="#fff" stroke="#c4c4c4" stroke-width="0.3" textLength="24.5" lengthAdjust="spacingAndGlyphs">STOP</text><circle cx="0" cy="0" r="4.5" fill="#fff" stroke="#c8c8c8" stroke-width="2.2"/><path d="M-0.6,-3.4 L1.6,-0.6 L-0.4,3.4" stroke="#cacaca" stroke-width="1.5" fill="none"/><text x="5.8" y="4.6" font-size="12.5" fill="#fff" stroke="#c6c6c6" stroke-width="0.75" textLength="26" lengthAdjust="spacingAndGlyphs">TECH</text><rect x="6" y="7" width="25" height="1.2" fill="#e0e0e0"/><rect x="-22" y="7" width="16" height="1.1" fill="#e4e4e4"/></g><g transform="translate(168.5,356.5) rotate(-29)"><rect x="-31.5" y="-5.6" width="26.5" height="11.2" rx="1.2" fill="#cecece"/><text x="-30.3" y="4.2" font-size="12" font-weight="bold" fill="#fff" stroke="#c4c4c4" stroke-width="0.3" textLength="24.5" lengthAdjust="spacingAndGlyphs">STOP</text><circle cx="0" cy="0" r="4.5" fill="#fff" stroke="#c8c8c8" stroke-width="2.2"/><path d="M-0.6,-3.4 L1.6,-0.6 L-0.4,3.4" stroke="#cacaca" stroke-width="1.5" fill="none"/><text x="5.8" y="4.6" font-size="12.5" fill="#fff" stroke="#c6c6c6" stroke-width="0.75" textLength="26" lengthAdjust="spacingAndGlyphs">TECH</text><rect x="6" y="7" width="25" height="1.2" fill="#e0e0e0"/><rect x="-22" y="7" width="16" height="1.1" fill="#e4e4e4"/></g><g transform="translate(188.5,322) rotate(-29)"><rect x="-31.5" y="-5.6" width="26.5" height="11.2" rx="1.2" fill="#cecece"/><text x="-30.3" y="4.2" font-size="12" font-weight="bold" fill="#fff" stroke="#c4c4c4" stroke-width="0.3" textLength="24.5" lengthAdjust="spacingAndGlyphs">STOP</text><circle cx="0" cy="0" r="4.5" fill="#fff" stroke="#c8c8c8" stroke-width="2.2"/><path d="M-0.6,-3.4 L1.6,-0.6 L-0.4,3.4" stroke="#cacaca" stroke-width="1.5" fill="none"/><text x="5.8" y="4.6" font-size="12.5" fill="#fff" stroke="#c6c6c6" stroke-width="0.75" textLength="26" lengthAdjust="spacingAndGlyphs">TECH</text><rect x="6" y="7" width="25" height="1.2" fill="#e0e0e0"/><rect x="-22" y="7" width="16" height="1.1" fill="#e4e4e4"/></g><g transform="translate(209,356.5) rotate(-29)"><rect x="-31.5" y="-5.6" width="26.5" height="11.2" rx="1.2" fill="#cecece"/><text x="-30.3" y="4.2" font-size="12" font-weight="bold" fill="#fff" stroke="#c4c4c4" stroke-width="0.3" textLength="24.5" lengthAdjust="spacingAndGlyphs">STOP</text><circle cx="0" cy="0" r="4.5" fill="#fff" stroke="#c8c8c8" stroke-width="2.2"/><path d="M-0.6,-3.4 L1.6,-0.6 L-0.4,3.4" stroke="#cacaca" stroke-width="1.5" fill="none"/><text x="5.8" y="4.6" font-size="12.5" fill="#fff" stroke="#c6c6c6" stroke-width="0.75" textLength="26" lengthAdjust="spacingAndGlyphs">TECH</text><rect x="6" y="7" width="25" height="1.2" fill="#e0e0e0"/><rect x="-22" y="7" width="16" height="1.1" fill="#e4e4e4"/></g><g transform="translate(229,322) rotate(-29)"><rect x="-31.5" y="-5.6" width="26.5" height="11.2" rx="1.2" fill="#cecece"/><text x="-30.3" y="4.2" font-size="12" font-weight="bold" fill="#fff" stroke="#c4c4c4" stroke-width="0.3" textLength="24.5" lengthAdjust="spacingAndGlyphs">STOP</text><circle cx="0" cy="0" r="4.5" fill="#fff" stroke="#c8c8c8" stroke-width="2.2"/><path d="M-0.6,-3.4 L1.6,-0.6 L-0.4,3.4" stroke="#cacaca" stroke-width="1.5" fill="none"/><text x="5.8" y="4.6" font-size="12.5" fill="#fff" stroke="#c6c6c6" stroke-width="0.75" textLength="26" lengthAdjust="spacingAndGlyphs">TECH</text><rect x="6" y="7" width="25" height="1.2" fill="#e0e0e0"/><rect x="-22" y="7" width="16" height="1.1" fill="#e4e4e4"/></g><g transform="translate(249.5,356.5) rotate(-29)"><rect x="-31.5" y="-5.6" width="26.5" height="11.2" rx="1.2" fill="#cecece"/><text x="-30.3" y="4.2" font-size="12" font-weight="bold" fill="#fff" stroke="#c4c4c4" stroke-width="0.3" textLength="24.5" lengthAdjust="spacingAndGlyphs">STOP</text><circle cx="0" cy="0" r="4.5" fill="#fff" stroke="#c8c8c8" stroke-width="2.2"/><path d="M-0.6,-3.4 L1.6,-0.6 L-0.4,3.4" stroke="#cacaca" stroke-width="1.5" fill="none"/><text x="5.8" y="4.6" font-size="12.5" fill="#fff" stroke="#c6c6c6" stroke-width="0.75" textLength="26" lengthAdjust="spacingAndGlyphs">TECH</text><rect x="6" y="7" width="25" height="1.2" fill="#e0e0e0"/><rect x="-22" y="7" width="16" height="1.1" fill="#e4e4e4"/></g><g transform="translate(269.5,322) rotate(-29)"><rect x="-31.5" y="-5.6" width="26.5" height="11.2" rx="1.2" fill="#cecece"/><text x="-30.3" y="4.2" font-size="12" font-weight="bold" fill="#fff" stroke="#c4c4c4" stroke-width="0.3" textLength="24.5" lengthAdjust="spacingAndGlyphs">STOP</text><circle cx="0" cy="0" r="4.5" fill="#fff" stroke="#c8c8c8" stroke-width="2.2"/><path d="M-0.6,-3.4 L1.6,-0.6 L-0.4,3.4" stroke="#cacaca" stroke-width="1.5" fill="none"/><text x="5.8" y="4.6" font-size="12.5" fill="#fff" stroke="#c6c6c6" stroke-width="0.75" textLength="26" lengthAdjust="spacingAndGlyphs">TECH</text><rect x="6" y="7" width="25" height="1.2" fill="#e0e0e0"/><rect x="-22" y="7" width="16" height="1.1" fill="#e4e4e4"/></g><g transform="translate(290,356.5) rotate(-29)"><rect x="-31.5" y="-5.6" width="26.5" height="11.2" rx="1.2" fill="#cecece"/><text x="-30.3" y="4.2" font-size="12" font-weight="bold" fill="#fff" stroke="#c4c4c4" stroke-width="0.3" textLength="24.5" lengthAdjust="spacingAndGlyphs">STOP</text><circle cx="0" cy="0" r="4.5" fill="#fff" stroke="#c8c8c8" stroke-width="2.2"/><path d="M-0.6,-3.4 L1.6,-0.6 L-0.4,3.4" stroke="#cacaca" stroke-width="1.5" fill="none"/><text x="5.8" y="4.6" font-size="12.5" fill="#fff" stroke="#c6c6c6" stroke-width="0.75" textLength="26" lengthAdjust="spacingAndGlyphs">TECH</text><rect x="6" y="7" width="25" height="1.2" fill="#e0e0e0"/><rect x="-22" y="7" width="16" height="1.1" fill="#e4e4e4"/></g><g transform="translate(310,322) rotate(-29)"><rect x="-31.5" y="-5.6" width="26.5" height="11.2" rx="1.2" fill="#cecece"/><text x="-30.3" y="4.2" font-size="12" font-weight="bold" fill="#fff" stroke="#c4c4c4" stroke-width="0.3" textLength="24.5" lengthAdjust="spacingAndGlyphs">STOP</text><circle cx="0" cy="0" r="4.5" fill="#fff" stroke="#c8c8c8" stroke-width="2.2"/><path d="M-0.6,-3.4 L1.6,-0.6 L-0.4,3.4" stroke="#cacaca" stroke-width="1.5" fill="none"/><text x="5.8" y="4.6" font-size="12.5" fill="#fff" stroke="#c6c6c6" stroke-width="0.75" textLength="26" lengthAdjust="spacingAndGlyphs">TECH</text><rect x="6" y="7" width="25" height="1.2" fill="#e0e0e0"/><rect x="-22" y="7" width="16" height="1.1" fill="#e4e4e4"/></g><g transform="translate(330.5,356.5) rotate(-29)"><rect x="-31.5" y="-5.6" width="26.5" height="11.2" rx="1.2" fill="#cecece"/><text x="-30.3" y="4.2" font-size="12" font-weight="bold" fill="#fff" stroke="#c4c4c4" stroke-width="0.3" textLength="24.5" lengthAdjust="spacingAndGlyphs">STOP</text><circle cx="0" cy="0" r="4.5" fill="#fff" stroke="#c8c8c8" stroke-width="2.2"/><path d="M-0.6,-3.4 L1.6,-0.6 L-0.4,3.4" stroke="#cacaca" stroke-width="1.5" fill="none"/><text x="5.8" y="4.6" font-size="12.5" fill="#fff" stroke="#c6c6c6" stroke-width="0.75" textLength="26" lengthAdjust="spacingAndGlyphs">TECH</text><rect x="6" y="7" width="25" height="1.2" fill="#e0e0e0"/><rect x="-22" y="7" width="16" height="1.1" fill="#e4e4e4"/></g><g transform="translate(350.5,322) rotate(-29)"><rect x="-31.5" y="-5.6" width="26.5" height="11.2" rx="1.2" fill="#cecece"/><text x="-30.3" y="4.2" font-size="12" font-weight="bold" fill="#fff" stroke="#c4c4c4" stroke-width="0.3" textLength="24.5" lengthAdjust="spacingAndGlyphs">STOP</text><circle cx="0" cy="0" r="4.5" fill="#fff" stroke="#c8c8c8" stroke-width="2.2"/><path d="M-0.6,-3.4 L1.6,-0.6 L-0.4,3.4" stroke="#cacaca" stroke-width="1.5" fill="none"/><text x="5.8" y="4.6" font-size="12.5" fill="#fff" stroke="#c6c6c6" stroke-width="0.75" textLength="26" lengthAdjust="spacingAndGlyphs">TECH</text><rect x="6" y="7" width="25" height="1.2" fill="#e0e0e0"/><rect x="-22" y="7" width="16" height="1.1" fill="#e4e4e4"/></g><g transform="translate(371,356.5) rotate(-29)"><rect x="-31.5" y="-5.6" width="26.5" height="11.2" rx="1.2" fill="#cecece"/><text x="-30.3" y="4.2" font-size="12" font-weight="bold" fill="#fff" stroke="#c4c4c4" stroke-width="0.3" textLength="24.5" lengthAdjust="spacingAndGlyphs">STOP</text><circle cx="0" cy="0" r="4.5" fill="#fff" stroke="#c8c8c8" stroke-width="2.2"/><path d="M-0.6,-3.4 L1.6,-0.6 L-0.4,3.4" stroke="#cacaca" stroke-width="1.5" fill="none"/><text x="5.8" y="4.6" font-size="12.5" fill="#fff" stroke="#c6c6c6" stroke-width="0.75" textLength="26" lengthAdjust="spacingAndGlyphs">TECH</text><rect x="6" y="7" width="25" height="1.2" fill="#e0e0e0"/><rect x="-22" y="7" width="16" height="1.1" fill="#e4e4e4"/></g><g transform="translate(391,322) rotate(-29)"><rect x="-31.5" y="-5.6" width="26.5" height="11.2" rx="1.2" fill="#cecece"/><text x="-30.3" y="4.2" font-size="12" font-weight="bold" fill="#fff" stroke="#c4c4c4" stroke-width="0.3" textLength="24.5" lengthAdjust="spacingAndGlyphs">STOP</text><circle cx="0" cy="0" r="4.5" fill="#fff" stroke="#c8c8c8" stroke-width="2.2"/><path d="M-0.6,-3.4 L1.6,-0.6 L-0.4,3.4" stroke="#cacaca" stroke-width="1.5" fill="none"/><text x="5.8" y="4.6" font-size="12.5" fill="#fff" stroke="#c6c6c6" stroke-width="0.75" textLength="26" lengthAdjust="spacingAndGlyphs">TECH</text><rect x="6" y="7" width="25" height="1.2" fill="#e0e0e0"/><rect x="-22" y="7" width="16" height="1.1" fill="#e4e4e4"/></g></g>
<rect x="140" y="324.4" width="219.7" height="11.4" fill="#fff" stroke="#2a2a2a" stroke-width="1.2"/>
<rect x="154.6" y="335.8" width="190.7" height="30.2" fill="none" stroke="#2a2a2a" stroke-width="1.2"/>
<rect x="229.3" y="324.4" width="41.7" height="2.8" fill="#b0b0b0" stroke="#2a2a2a" stroke-width="0.8"/>
<line x1="242.5" y1="324.4" x2="242.5" y2="327.2" stroke="#2a2a2a" stroke-width="0.8"/>
<line x1="256.8" y1="324.4" x2="256.8" y2="327.2" stroke="#2a2a2a" stroke-width="0.8"/>
<line x1="229.3" y1="327.2" x2="229.3" y2="335" stroke="#555" stroke-width="0.8"/>
<line x1="271" y1="327.2" x2="271" y2="335" stroke="#555" stroke-width="0.8"/>
<line x1="231.3" y1="328" x2="231.3" y2="334" stroke="#777" stroke-width="0.7" stroke-dasharray="1.5,1.2"/>
<line x1="268.8" y1="328" x2="268.8" y2="334" stroke="#777" stroke-width="0.7" stroke-dasharray="1.5,1.2"/>
<path d="M274.5,331.4 L298,331.4 A5,5 0 0 1 298,341.4 L201,337.6 A4.9,4.9 0 0 0 201,347.4 L225.5,347.4" fill="none" stroke="#333" stroke-width="3.9"/>
<path d="M275.4,331.4 L298,331.4 A5,5 0 0 1 298,341.4 L201,337.6 A4.9,4.9 0 0 0 201,347.4 L224.6,347.4" fill="none" stroke="#fff" stroke-width="2.1"/>
<path d="M238,340.2 L262,341.2" stroke="#777" stroke-width="0.8" stroke-dasharray="2,1.5"/>
<rect x="235.8" y="343.8" width="28.4" height="2.7" fill="#fff" stroke="#2a2a2a" stroke-width="0.8"/>


<!-- perspective pads -->
<g>
<!-- pad1 -->
<path d="M401.8,129.1 L417.3,123.8 L432.8,125.2 L443.5,125.7 L450.3,127.1 L457,133 L457.5,137.8 L453.2,142.7 L449.3,148.5 L436.7,150.9 L428,150.4 L418.3,144.6 L404.7,140.7 L401.8,131 Z" fill="#393b3d"/>
<path d="M401.8,129.1 L417.3,123.8 L432.8,125.2 L443.5,125.7 L450.3,127.1 L457,133 L455,137.3 L436.7,138.8 L422,135.9 L402.6,130 Z" fill="#505254"/>
<path d="M418.3,135.5 L418.3,144.6 M436.7,138.8 L436.7,150.9" stroke="#36383a" stroke-width="1"/>
<path d="M444,125 L447,123.8 L452,126 L451,128 Z" fill="#555"/>
<!-- pad2 -->
<path d="M454.1,113.9 L463.5,111.25 L476.25,111.25 L489,114.6 L501.75,118.4 L502.9,120.6 L501.75,125.5 L495,130 L487.5,132.25 L472.5,129.6 L459.75,126.25 L456.75,122.5 L454.5,117.25 Z" fill="#3a3c3e"/>
<path d="M454.1,113.9 L463.5,111.25 L476.25,111.25 L489,114.6 L501.75,118.4 L501,121 L483.75,122.5 L471,120.25 L457.5,117.25 Z" fill="#4e5052"/>
<path d="M451,122.5 L457.5,124" stroke="#555" stroke-width="1.3"/>
<path d="M458,121.5 L467,120 L470,122 L461,124 Z" fill="#5e6062"/>
<!-- pad3 -->
<path d="M504.4,132.5 L507.4,127.25 L520.1,122.9 L528.9,123.75 L539.4,127.25 L544.6,128.1 L560.4,132 L562.5,140.4 L561.25,143 L549,146.5 L533.25,144.75 L515.75,144.75 L514,141.25 L504,136 Z" fill="#3e3f3e"/>
<path d="M507.4,127.25 L520.1,122.9 L528.9,123.75 L539.4,127.25 L544.6,128.1 L560.4,132 L561.25,138.2 L543.75,136 L526.25,134.7 L507.9,131.2 Z" fill="#6d6b63"/>
<path d="M539.4,127.25 L526.25,134.7" stroke="#4a4944" stroke-width="1"/>
<ellipse cx="517.5" cy="140.8" rx="3.6" ry="1.6" fill="#bdbdbd"/>
<path d="M501,138.5 L505,140" stroke="#444" stroke-width="1.2"/>
<!-- pad4 -->
<path d="M455.5,148 L459,145 L470,141.5 L483,142.5 L495,146.5 L508,150 L515,155 L516.5,159 L518,163 L521,165 L520,168 L514,170 L502,175 L490,174 L479,168 L468,162 L456.5,160 L456,153 Z" fill="#403f3c"/>
<path d="M455.5,148 L459,145 L470,141.5 L483,142.5 L495,146.5 L508,150 L515,155 L516.5,159 L514,163 L495,162 L476,155.5 L456,153 Z" fill="#77746a"/>
<path d="M495,147 L476,155" stroke="#5a5850" stroke-width="1"/>
<path d="M476,155.5 L476,163 M495,162 L495,172" stroke="#3e3e3c" stroke-width="0.8"/>
<path d="M495.5,143.5 L499,146 M507.5,149 L520,154" stroke="#333" stroke-width="1.1"/>
</g>
<!-- top-left dark pad -->
<path d="M591.3,88 Q591.3,82.5 598,80.6 Q602,79.8 606,80.8 L621.8,83.3 L622.2,81.6 L630,81.6 L630.3,83.3 L645,81 Q650,80.2 654,81.6 Q659,83.5 659,88 L659,111 L663.7,111.8 L663.7,115.2 L659,117.2 Q645,121.8 632.6,122.5 L632.6,134 Q632.6,138.2 625.2,138.2 Q617.9,138.2 617.9,134 L617.9,122.5 Q604,121.8 590.5,117 L586.2,115.2 L586.2,111.8 L591.3,111 Z" fill="#3a3a3a"/>
<circle cx="625.2" cy="134.3" r="2.9" fill="#e4e4e4"/>
<line x1="603.7" y1="139.2" x2="645.6" y2="139.2" stroke="#555" stroke-width="1.4"/>
<!-- top-right grey pad -->
<path d="M668.5,112.4 L673.5,112.4 L740.5,112.4 L744.8,112.4 L744.8,116.8 Q728,122.5 713.8,124 L713.8,134 Q713.8,139 706.6,139 Q699.6,139 699.6,134 L699.6,124 Q684,122.5 668.5,116.8 Z" fill="#3a3a3a"/>
<path d="M673.6,89 Q673.6,83.2 680,81.6 Q684,80.8 690,82 L706,85.6 L724,82.3 Q729,81.4 734,82.5 Q740.9,84.2 740.9,89.5 L740.9,113.5 Q740.5,117.5 736,118.6 Q720,122.6 706,122.6 Q692,122.4 677.5,118.4 Q673.2,117.2 673.2,113.5 Z" fill="#9b998f"/>
<line x1="706.4" y1="85.8" x2="706.4" y2="122.4" stroke="#3a3a3a" stroke-width="1.8"/>
<circle cx="706.4" cy="135" r="4.3" fill="#d2d5d2"/>
<line x1="686" y1="139.6" x2="726.4" y2="139.6" stroke="#555" stroke-width="1.4"/>
<!-- bottom-left dark pad -->
<line x1="605.4" y1="147.8" x2="646" y2="147.8" stroke="#555" stroke-width="1.4"/>
<path d="M586,171 Q592,166 601.8,164.2 L618.5,164 L618.5,153.5 Q618.5,149 625.7,149 Q633,149 633,153.5 L633,164 L647.8,164.2 Q658,166 663.6,171.3 L663.6,174.4 L658.7,174.4 L658.7,200.5 Q658.7,203.5 655,205 L650.5,206.5 Q640,203 626,202.8 Q610,203 600,205.9 L594,204 Q589.7,202.5 589.7,199.5 L589.7,174.4 L586,174.4 Z" fill="#3a3a3a"/>
<circle cx="625.6" cy="152.9" r="2.9" fill="#e4e4e4"/>
<!-- bottom-right grey pad -->
<line x1="686.4" y1="149.3" x2="726.4" y2="149.3" stroke="#555" stroke-width="1.4"/>
<path d="M667.6,171.3 Q675,166.5 688.2,165.3 L698.5,165 L698.5,153 Q698.5,148.3 706,148.3 Q713.7,148.3 713.7,153 L713.7,165 L722,165.3 Q736,166.5 743.3,171.3 L743.3,175.6 L667.6,175.6 Z" fill="#3a3a3a"/>
<path d="M672,172 Q688,166.6 705.5,166.3 Q723,166.6 739.7,172 L739.7,201.5 Q739.7,205.5 735,206.5 L731.8,207 Q718,202.5 705.2,202.2 Q690,202.5 679,206.5 Q672,206.8 672,202 Z" fill="#9b998f"/>
<line x1="705.8" y1="166.2" x2="705.8" y2="202.4" stroke="#3a3a3a" stroke-width="1.8"/>
<circle cx="705.8" cy="153.2" r="4.6" fill="#d2d5d2"/>
<!-- side photo -->
<rect x="402.6" y="295.2" width="14" height="7.3" rx="1.2" fill="#2b2b2b"/>
<rect x="548.8" y="294.7" width="13.8" height="7.8" rx="1.2" fill="#2b2b2b"/>
<rect x="415.5" y="292.9" width="135" height="10" fill="#323232"/>
<rect x="417" y="292.9" width="60" height="1.2" fill="#4a4a4a"/>
<rect x="463" y="294" width="38.5" height="9" fill="#3a3a3a"/>
<rect x="470" y="295" width="24" height="7.5" fill="#444"/>
<rect x="414" y="302.4" width="137.7" height="19.2" fill="#2a2a2a"/>
<rect x="414" y="303" width="137.7" height="1" fill="#3c3c3c"/>
<path d="M440,309 L456,309 M530,309 L548,309" stroke="#484848" stroke-width="1.2"/>
<path d="M470,305.5 L440,305.5 Q438,305.5 438,307.5 Q438,309 440,309 M496,305.5 L526,305.5 Q528,305.5 528,307.5 Q528,309 526,309" stroke="#4e4e4e" stroke-width="0.9" fill="none"/>
<rect x="473.2" y="310.9" width="19.7" height="1.8" fill="#f0f0f0"/>
<rect x="480.6" y="312.5" width="4.4" height="9.2" fill="#f0f0f0"/>


<defs><radialGradient id="wg" cx="0.5" cy="0.75" r="0.6"><stop offset="0" stop-color="#ffffff"/><stop offset="0.55" stop-color="#fbeaea"/><stop offset="1" stop-color="#eea9a9"/></radialGradient>
<linearGradient id="ws" x1="0" y1="0" x2="0" y2="1"><stop offset="0" stop-color="#d04848"/><stop offset="1" stop-color="#a82222"/></linearGradient></defs>
<path d="M67.9,557.6 L78.9,576.8 L56.9,576.8 Z" fill="url(#wg)" stroke="url(#ws)" stroke-width="2.6" stroke-linejoin="round"/>
<rect x="66.95" y="564" width="1.9" height="7.4" rx="0.6" fill="#111"/>
<rect x="66.95" y="572.4" width="1.9" height="1.9" rx="0.5" fill="#111"/>

</svg>
<div class="bar" style="left:39px;top:20.6px;width:722.6px;height:33.8px"></div><div class="bar" style="left:39px;top:410.7px;width:343.8px;height:29.5px"></div><div class="bar" style="left:386.4px;top:410.7px;width:210.2px;height:29.5px"></div><div class="bar" style="left:600px;top:410.7px;width:162.4px;height:29.5px"></div><div class="a" id="t1" style="top:19.97px;font-size:31.3px;color:#fff;left:51.2px;"><span class="c" style="transform:scaleX(0.78)">309.02280</span></div>
<div class="a" id="t2" style="top:21.69px;font-size:29.9px;color:#fff;right:54.1px;"><span class="c cr" style="transform:scaleX(0.82)">Brake Pad</span></div>
<div class="a" id="h1" style="top:414.62px;font-size:17px;color:#fff;left:48.7px;"><span class="c" style="transform:scaleX(0.78)">Inner Brake Pads Specs</span></div>
<div class="a" id="h2" style="top:414.62px;font-size:17px;color:#fff;right:424.6px;"><span class="c cr" style="transform:scaleX(0.78)">Outer Brake Pads Specs</span></div>
<div class="a" id="h3" style="top:414.62px;font-size:17px;color:#fff;left:470.65px;"><span class="c" style="transform:scaleX(0.78)">FMSI #</span></div>
<div class="a" id="h4" style="top:414.62px;font-size:17px;color:#fff;left:639.15px;"><span class="c" style="transform:scaleX(0.78)">Related Parts</span></div>
<div class="a" id="il0" style="top:442.9px;font-size:12.6px;color:#111;right:642px;"><span class="c cr" style="transform:scaleX(0.8)">Inner Pad Width:</span></div>
<div class="a" id="iv0" style="top:442.9px;font-size:12.6px;color:#111;left:160.8px;"><span class="c" style="transform:scaleX(0.8)">87</span></div>
<div class="a" id="il1" style="top:458.7px;font-size:12.6px;color:#111;right:642px;"><span class="c cr" style="transform:scaleX(0.8)">Inner Pad Height:</span></div>
<div class="a" id="iv1" style="top:458.7px;font-size:12.6px;color:#111;left:160.8px;"><span class="c" style="transform:scaleX(0.8)">66.8</span></div>
<div class="a" id="il2" style="top:474.5px;font-size:12.6px;color:#111;right:642px;"><span class="c cr" style="transform:scaleX(0.8)">Inner Pad Thk w/o Shim:</span></div>
<div class="a" id="iv2" style="top:474.5px;font-size:12.6px;color:#111;left:160.8px;"><span class="c" style="transform:scaleX(0.8)">16.5</span></div>
<div class="a" id="il3" style="top:490.3px;font-size:12.6px;color:#111;right:642px;"><span class="c cr" style="transform:scaleX(0.8)">Sensor Wire Length:</span></div>
<div class="a" id="ol0" style="top:442.9px;font-size:12.6px;color:#111;right:465.1px;"><span class="c cr" style="transform:scaleX(0.8)">Outer Pad Width:</span></div>
<div class="a" id="ov0" style="top:442.9px;font-size:12.6px;color:#111;left:337.8px;"><span class="c" style="transform:scaleX(0.8)">87</span></div>
<div class="a" id="ol1" style="top:458.7px;font-size:12.6px;color:#111;right:465.1px;"><span class="c cr" style="transform:scaleX(0.8)">Outer Pad Height:</span></div>
<div class="a" id="ov1" style="top:458.7px;font-size:12.6px;color:#111;left:337.8px;"><span class="c" style="transform:scaleX(0.8)">66.8</span></div>
<div class="a" id="ol2" style="top:474.5px;font-size:12.6px;color:#111;right:465.1px;"><span class="c cr" style="transform:scaleX(0.8)">Outer Pad Thk w/o Shim:</span></div>
<div class="a" id="ov2" style="top:474.5px;font-size:12.6px;color:#111;left:337.8px;"><span class="c" style="transform:scaleX(0.8)">16.5</span></div>
<div class="a" id="fa0" style="top:442.9px;font-size:12.6px;color:#111;left:391.7px;"><span class="c" style="transform:scaleX(0.8)">FMSI:</span></div>
<div class="a" id="fb0" style="top:442.9px;font-size:12.6px;color:#111;left:423.2px;"><span class="c" style="transform:scaleX(0.8)">7144D228</span></div>
<div class="a" id="fc0" style="top:442.9px;font-size:12.6px;color:#111;left:496.1px;"><span class="c" style="transform:scaleX(0.8)">FMSI:</span></div>
<div class="a" id="fd0" style="top:442.9px;font-size:12.6px;color:#111;left:527.7px;"><span class="c" style="transform:scaleX(0.8)">D851</span></div>
<div class="a" id="fa1" style="top:458.7px;font-size:12.6px;color:#111;left:391.7px;"><span class="c" style="transform:scaleX(0.8)">FMSI:</span></div>
<div class="a" id="fb1" style="top:458.7px;font-size:12.6px;color:#111;left:423.2px;"><span class="c" style="transform:scaleX(0.8)">7208D306</span></div>
<div class="a" id="fc1" style="top:458.7px;font-size:12.6px;color:#111;left:496.1px;"><span class="c" style="transform:scaleX(0.8)">FMSI:</span></div>
<div class="a" id="fa2" style="top:474.5px;font-size:12.6px;color:#111;left:391.7px;"><span class="c" style="transform:scaleX(0.8)">FMSI:</span></div>
<div class="a" id="fb2" style="top:474.5px;font-size:12.6px;color:#111;left:423.2px;"><span class="c" style="transform:scaleX(0.8)">7309D228</span></div>
<div class="a" id="fc2" style="top:474.5px;font-size:12.6px;color:#111;left:496.1px;"><span class="c" style="transform:scaleX(0.8)">FMSI:</span></div>
<div class="a" id="fa3" style="top:490.3px;font-size:12.6px;color:#111;left:391.7px;"><span class="c" style="transform:scaleX(0.8)">FMSI:</span></div>
<div class="a" id="fb3" style="top:490.3px;font-size:12.6px;color:#111;left:423.2px;"><span class="c" style="transform:scaleX(0.8)">7498D228</span></div>
<div class="a" id="fc3" style="top:490.3px;font-size:12.6px;color:#111;left:496.1px;"><span class="c" style="transform:scaleX(0.8)">FMSI:</span></div>
<div class="a" id="fa4" style="top:506.1px;font-size:12.6px;color:#111;left:391.7px;"><span class="c" style="transform:scaleX(0.8)">FMSI:</span></div>
<div class="a" id="fb4" style="top:506.1px;font-size:12.6px;color:#111;left:423.2px;"><span class="c" style="transform:scaleX(0.8)">7727D851</span></div>
<div class="a" id="fc4" style="top:506.1px;font-size:12.6px;color:#111;left:496.1px;"><span class="c" style="transform:scaleX(0.8)">FMSI:</span></div>
<div class="a" id="fa5" style="top:521.9px;font-size:12.6px;color:#111;left:391.7px;"><span class="c" style="transform:scaleX(0.8)">FMSI:</span></div>
<div class="a" id="fb5" style="top:521.9px;font-size:12.6px;color:#111;left:423.2px;"><span class="c" style="transform:scaleX(0.8)">D228</span></div>
<div class="a" id="fc5" style="top:521.9px;font-size:12.6px;color:#111;left:496.1px;"><span class="c" style="transform:scaleX(0.8)">FMSI:</span></div>
<div class="a" id="fa6" style="top:537.7px;font-size:12.6px;color:#111;left:391.7px;"><span class="c" style="transform:scaleX(0.8)">FMSI:</span></div>
<div class="a" id="fb6" style="top:537.7px;font-size:12.6px;color:#111;left:423.2px;"><span class="c" style="transform:scaleX(0.8)">D306</span></div>
<div class="a" id="fc6" style="top:537.7px;font-size:12.6px;color:#111;left:496.1px;"><span class="c" style="transform:scaleX(0.8)">FMSI:</span></div>
<div class="a" id="hk" style="top:442.9px;font-size:12.6px;color:#111;left:603.6px;"><span class="c" style="transform:scaleX(0.8)">Hardware Kit #:</span></div>
<div class="a" id="n1" style="top:553.39px;font-size:14.6px;color:#111;left:95.8px;"><span class="c" style="transform:scaleX(0.85)">Note 1:</span></div>
<div class="a" id="n2" style="top:572.29px;font-size:14.6px;color:#111;left:95.8px;"><span class="c" style="transform:scaleX(0.85)">Note 2:</span></div>
<div class="a" id="d1" style="top:79.07px;font-size:13.4px;color:#111;font-style:italic;left:231.7px;"><span class="c" style="transform:scaleX(1.17)">87.0</span></div>
<div class="a" id="d2" style="top:184.07px;font-size:13.4px;color:#111;font-style:italic;left:75.7px;"><span class="c" style="transform:scaleX(1.17)">66.8</span></div>
<div class="a" id="d3" style="top:337.47px;font-size:13.4px;color:#111;font-style:italic;left:75.8px;"><span class="c" style="transform:scaleX(1.17)">16.5</span></div>

</body></html>
